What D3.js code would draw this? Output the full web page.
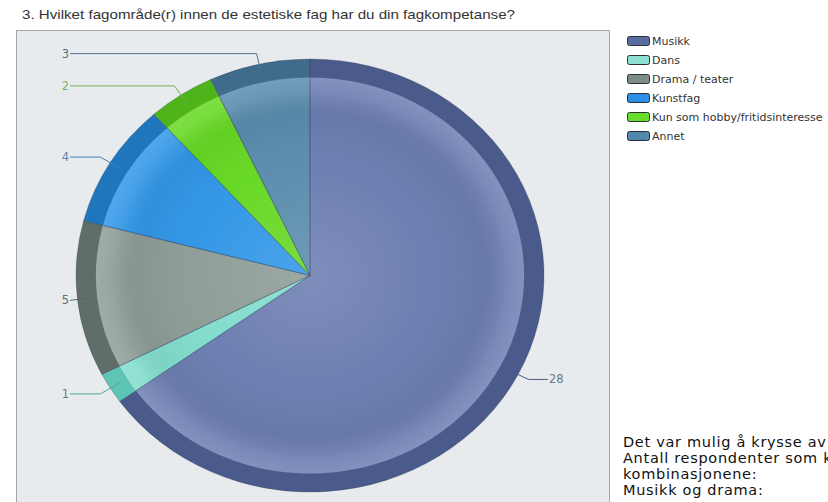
<!DOCTYPE html>
<html>
<head>
<meta charset="utf-8">
<script src="https://cdn.jsdelivr.net/npm/d3@7"></script>
<style>
  html, body { margin: 0; padding: 0; background: #fff; overflow: hidden; }
  svg { display: block; }
</style>
</head>
<body>
<div id="chart"></div>
<script>
// Data
const title = "3. Hvilket fagområde(r) innen de estetiske fag har du din fagkompetanse?";
const categories = ["Musikk", "Dans", "Drama / teater", "Kunstfag", "Kun som hobby/fritidsinteresse", "Annet"];
const counts = [28, 1, 5, 4, 2, 3];
const noteLines = [
    "Det var mulig å krysse av",
    "Antall respondenter som k",
    "kombinasjonene:",
    "Musikk og drama:"
];

// Styles
const rimColors = ["#4a5a8a", "#5ec4b5", "#5f6e69", "#1f76bd", "#4fb41a", "#3e6c8a"];
const innerColors = ["#6b7db1", "#82dccd", "#8d9c96", "#3196e6", "#66d824", "#5a8cad"];
const lineColors = ["#4b5b85", "#4fa69a", "#59665f", "#3d7fb8", "#74b04e", "#4f7592"];
const labelColors = ["#6e7788", "#6f7a78", "#666a6a", "#5b84ad", "#7fae5c", "#5d6a78"];
const swatchColors = ["#5b6b9e", "#8fe0d2", "#7d8c86", "#2f8fe8", "#6add2a", "#4f88aa"];

const width = 828, height = 502;
const cx = 310, cy = 275.5, R = 216.5, sx = 234 / 216.5;
const font = "'DejaVu Sans', Verdana, sans-serif";

const svg = d3.select("#chart").append("svg")
    .attr("width", width)
    .attr("height", height);

const defs = svg.append("defs");

// glass overlay for the inner part of the pie
const glass = defs.append("radialGradient")
    .attr("id", "glass")
    .attr("cx", "50%").attr("cy", "50%").attr("r", "50%");
[[0, "#fff", 0.13], [55, "#fff", 0.02], [80, "#000", 0.04], [93, "#fff", 0.10], [100, "#fff", 0.16]]
    .forEach(s => glass.append("stop")
        .attr("offset", s[0] + "%")
        .attr("stop-color", s[1])
        .attr("stop-opacity", s[2]));

// Title
svg.append("text")
    .attr("x", 22)
    .attr("y", 19)
    .style("font-family", "'Liberation Sans', Arial, sans-serif")
    .style("font-size", "13px")
    .attr("fill", "#333")
    .attr("textLength", 493)
    .attr("lengthAdjust", "spacingAndGlyphs")
    .text(title);

// Plot area
svg.append("rect")
    .attr("x", 16.5)
    .attr("y", 30.5)
    .attr("width", 593)
    .attr("height", 490)
    .attr("fill", "#e8ebee")
    .attr("stroke", "#a6a6a6");

// Pie
const pie = d3.pie().sort(null).value(d => d)(counts);
const outerArc = d3.arc().innerRadius(0).outerRadius(R);
const innerArc = d3.arc().innerRadius(0).outerRadius(R * 0.915);

const pieG = svg.append("g")
    .attr("transform", `translate(${cx},${cy}) scale(${sx},1)`);

pieG.selectAll("path.rim")
    .data(pie)
    .join("path")
    .attr("class", "rim")
    .attr("d", outerArc)
    .attr("fill", (d, i) => rimColors[i]);

pieG.selectAll("path.inner")
    .data(pie)
    .join("path")
    .attr("class", "inner")
    .attr("d", innerArc)
    .attr("fill", (d, i) => innerColors[i]);

pieG.append("circle")
    .attr("r", R * 0.915)
    .attr("fill", "url(#glass)");

pieG.selectAll("path.edge")
    .data(pie)
    .join("path")
    .attr("class", "edge")
    .attr("d", outerArc)
    .attr("fill", "none")
    .attr("stroke", "#2e3a55")
    .attr("stroke-opacity", 0.35)
    .attr("stroke-width", 0.8)
    .attr("vector-effect", "non-scaling-stroke");

// Labels with leader lines
const anchorArc = d3.arc().innerRadius(R * 0.95).outerRadius(R * 0.95);
const elbowArc = d3.arc().innerRadius(R * 1.05).outerRadius(R * 1.05);

const labelsG = svg.append("g");
pie.forEach((d, i) => {
    const a = anchorArc.centroid(d);
    const e = elbowArc.centroid(d);
    const ax = cx + a[0] * sx, ay = cy + a[1];
    let ex = cx + e[0] * sx;
    const ey = cy + e[1];
    const right = ex > cx;
    const endX = right ? 548 : 70;
    if (!right && ex < endX) ex = endX;
    if (right && ex > endX) ex = endX;

    labelsG.append("polyline")
        .attr("points", [[ax, ay], [ex, ey], [endX, ey]].map(p => p.join(",")).join(" "))
        .attr("fill", "none")
        .attr("stroke", lineColors[i])
        .attr("stroke-width", 1);

    labelsG.append("text")
        .attr("x", right ? endX + 1 : endX - 1)
        .attr("y", ey + 4)
        .attr("text-anchor", right ? "start" : "end")
        .style("font-family", font)
        .style("font-size", "11.5px")
        .attr("fill", labelColors[i])
        .text(d.data);
});

// Legend
const legend = svg.append("g")
    .attr("transform", "translate(627,36)");

categories.forEach((c, i) => {
    const row = legend.append("g").attr("transform", `translate(0,${i * 19})`);
    row.append("rect")
        .attr("x", 0.5).attr("y", 0.5)
        .attr("width", 22).attr("height", 9)
        .attr("rx", 2)
        .attr("fill", swatchColors[i])
        .attr("stroke", "#2b2f3a")
        .attr("stroke-width", 1);
    row.append("text")
        .attr("x", 25)
        .attr("y", 9)
        .style("font-family", font)
        .style("font-size", "11px")
        .attr("fill", "#333")
        .text(c);
});

// Note text at the bottom right
const note = svg.append("text")
    .style("font-family", font)
    .style("font-size", "14.5px")
    .style("letter-spacing", "0.7px")
    .attr("fill", "#111");
noteLines.forEach((t, i) => {
    note.append("tspan")
        .attr("x", 623)
        .attr("y", 447 + i * 16)
        .text(t);
});
</script>
</body>
</html>
